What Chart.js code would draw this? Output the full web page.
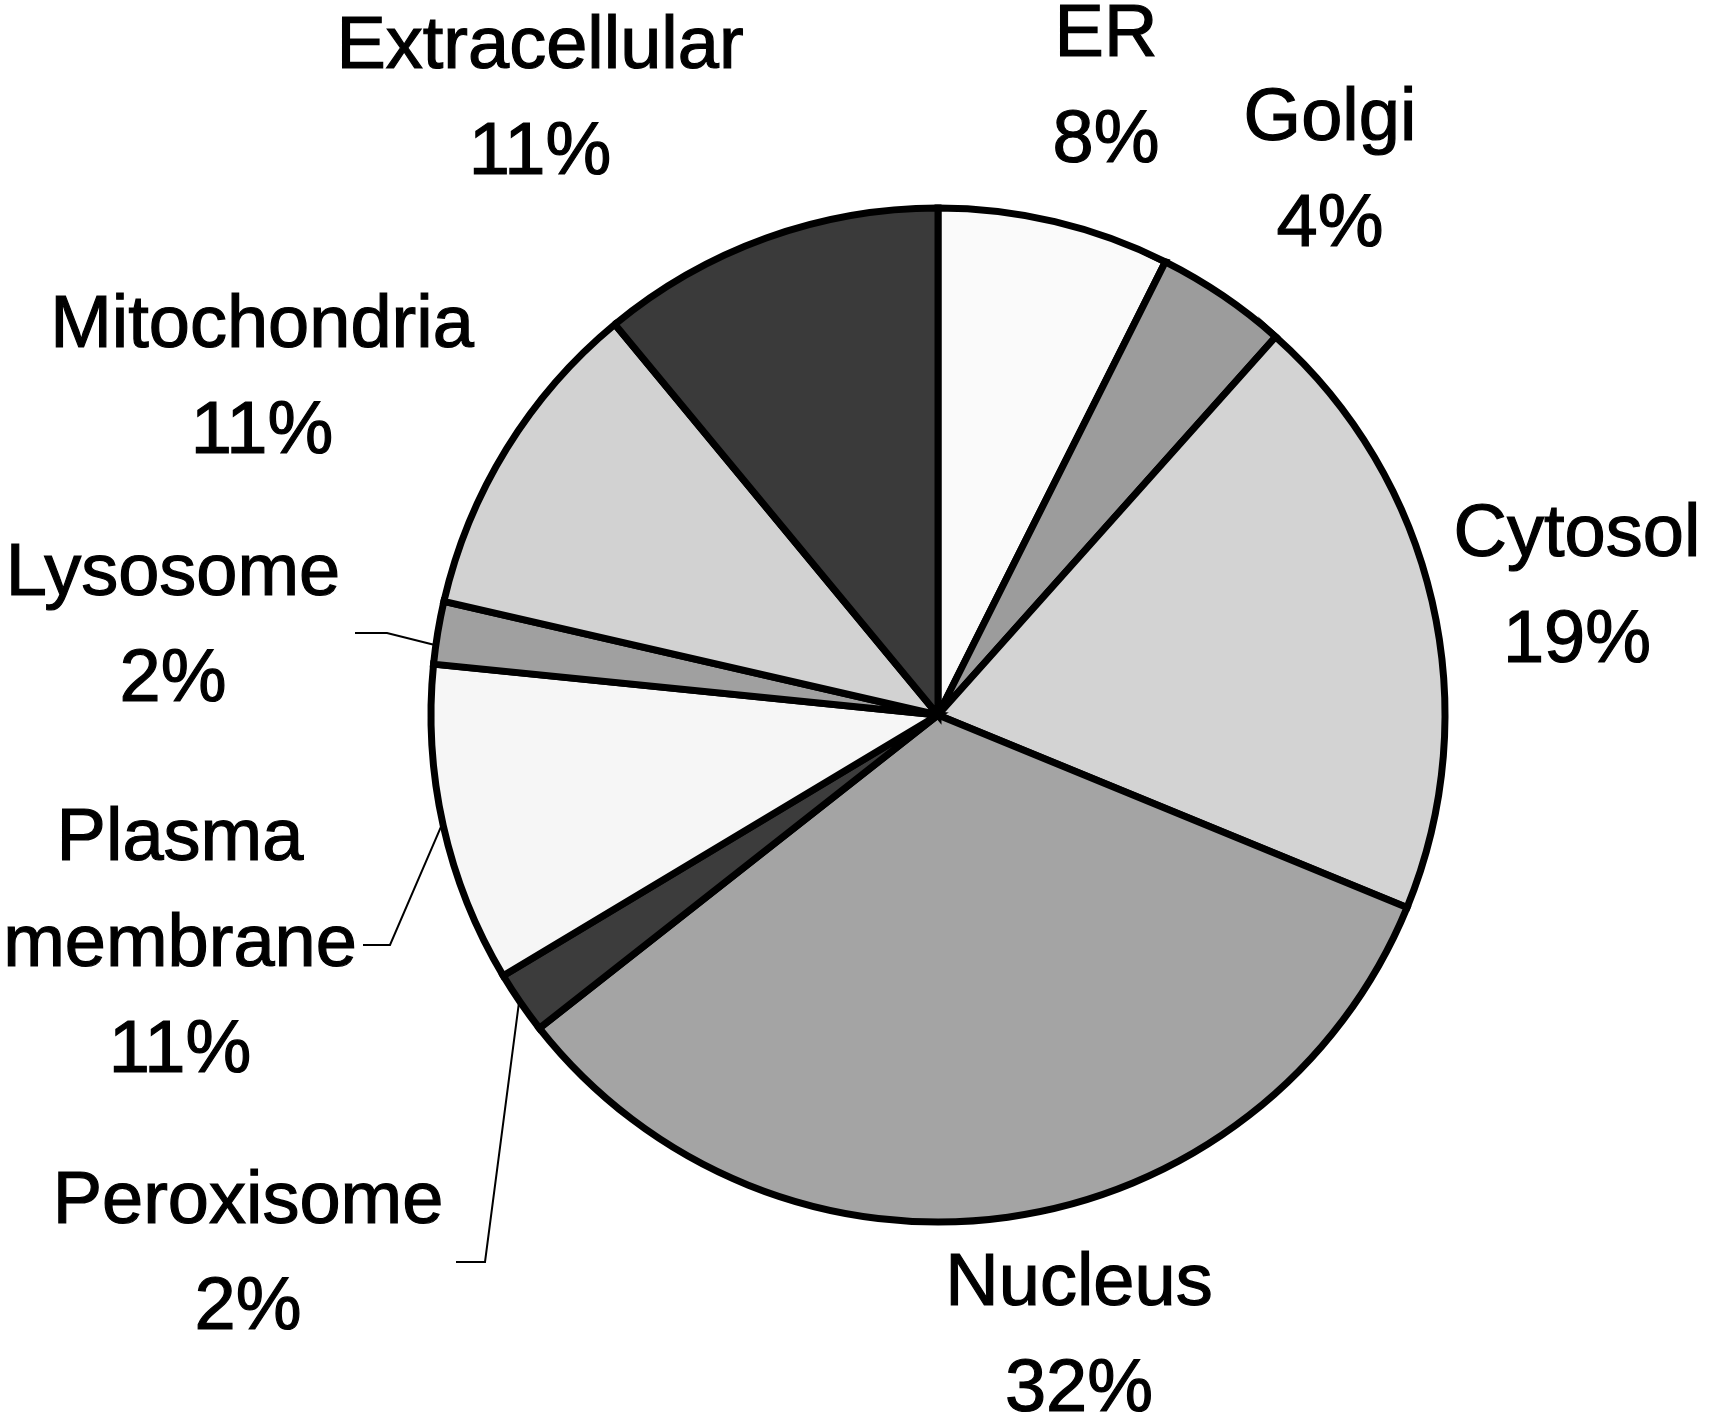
<!DOCTYPE html>
<html>
<head>
<meta charset="utf-8">
<script src="https://cdn.jsdelivr.net/npm/chart.js@4.4.1/dist/chart.umd.min.js"></script>
<style>
  html, body { margin: 0; padding: 0; background: #fff; }
  #grafico { display: block; }
</style>
</head>
<body>
<canvas id="grafico" width="1709" height="1415"></canvas>
<script>
// dados (sentido horário a partir do topo)
const categorias = ['ER', 'Golgi', 'Cytosol', 'Nucleus', 'Peroxisome', 'Plasma membrane', 'Lysosome', 'Mitochondria', 'Extracellular'];
const valores = [7.4, 4.2, 19.6, 33.2, 2.0, 10.2, 2.0, 10.4, 11.0];
const rotulosPct = ['8%', '4%', '19%', '32%', '2%', '11%', '2%', '11%', '11%'];

// estilo
const cores = ['#fafafa', '#9c9c9c', '#d3d3d3', '#a4a4a4', '#3c3c3c', '#f6f6f6', '#a0a0a0', '#d2d2d2', '#3a3a3a'];
const linhasNome = [['ER'], ['Golgi'], ['Cytosol'], ['Nucleus'], ['Peroxisome'], ['Plasma', 'membrane'], ['Lysosome'], ['Mitochondria'], ['Extracellular']];
const posRotulos = [
    {x: 1106, y: 56}, {x: 1330, y: 140}, {x: 1577, y: 556}, {x: 1079, y: 1305},
    {x: 248, y: 1223}, {x: 180, y: 860}, {x: 173, y: 595}, {x: 262, y: 347}, {x: 540, y: 68}
];
const guias = {
    4: [[485, 1262], [456, 1262]],
    5: [[390, 945], [363, 945]],
    6: [[387, 633], [355, 633]]
};
const alturaLinha = 106;

const rotulosPlugin = {
    id: 'rotulos',
    afterDraw(chart) {
        const ctx = chart.ctx;
        const arcos = chart.getDatasetMeta(0).data;
        ctx.save();

        // linhas guia
        ctx.strokeStyle = '#000';
        ctx.lineWidth = 2;
        Object.keys(guias).forEach(k => {
            const a = arcos[k];
            const meio = (a.startAngle + a.endAngle) / 2 - (k == 6 ? 0.025 : 0);
            const r = a.outerRadius + 2;
            ctx.beginPath();
            ctx.moveTo(a.x + r * Math.cos(meio), a.y + r * Math.sin(meio));
            guias[k].forEach(p => ctx.lineTo(p[0], p[1]));
            ctx.stroke();
        });

        // textos
        ctx.fillStyle = '#000';
        ctx.font = '74px "Liberation Sans", Arial, sans-serif';
        ctx.textAlign = 'center';
        ctx.textBaseline = 'alphabetic';
        ctx.lineWidth = 1.2;
        categorias.forEach((c, i) => {
            const p = posRotulos[i];
            const linhas = linhasNome[i].concat([rotulosPct[i]]);
            linhas.forEach((t, j) => {
                ctx.fillText(t, p.x, p.y + j * alturaLinha);
                ctx.strokeText(t, p.x, p.y + j * alturaLinha);
            });
        });
        ctx.restore();
    }
};

new Chart(document.getElementById('grafico'), {
    type: 'pie',
    data: {
        labels: categorias,
        datasets: [{
            data: valores,
            backgroundColor: cores,
            borderColor: '#000',
            borderWidth: 7,
            borderJoinStyle: 'miter'
        }]
    },
    options: {
        responsive: false,
        animation: false,
        radius: 507,
        layout: { padding: { left: 404, right: 237, top: 215, bottom: 200 } },
        plugins: {
            legend: { display: false },
            tooltip: { enabled: false }
        }
    },
    plugins: [rotulosPlugin]
});
</script>
</body>
</html>
